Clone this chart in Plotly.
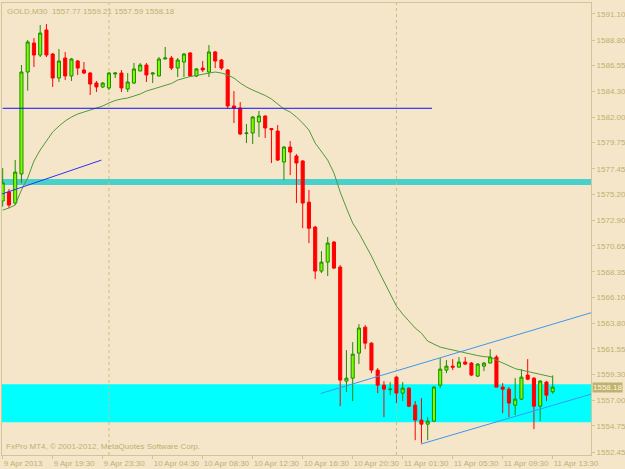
import plotly.graph_objects as go

# ---- data ----
opens = [1574.60, 1575.39, 1574.42, 1576.98, 1585.98, 1588.54, 1587.48, 1589.69, 1587.57, 1585.45,
         1587.22, 1585.63, 1586.95, 1586.16, 1585.89, 1585.01, 1584.66, 1584.57, 1585.80, 1585.89,
         1584.48, 1585.01, 1586.07, 1586.60, 1585.80, 1585.63, 1587.13, 1587.22, 1586.33, 1586.86,
         1587.66, 1585.63, 1586.33, 1585.98, 1587.75, 1587.04, 1586.16, 1582.98, 1582.80, 1580.55,
         1580.60, 1581.57, 1582.10, 1580.99, 1580.77, 1578.04, 1579.36, 1578.57, 1578.13, 1574.50,
         1572.30, 1568.42, 1569.21, 1570.98, 1568.77, 1558.71, 1558.97, 1561.18, 1563.47, 1562.06,
         1559.68, 1558.35, 1557.96, 1559.06, 1557.65, 1558.09, 1556.59, 1555.27, 1554.91, 1555.18,
         1558.35, 1559.68, 1560.03, 1559.94, 1560.39, 1560.30, 1559.15, 1560.03, 1560.30, 1560.83,
         1558.18, 1558.00, 1556.59, 1557.12, 1559.24, 1558.97, 1556.50, 1558.62, 1557.77]
highs = [1577.50, 1575.65, 1578.21, 1586.60, 1588.80, 1588.98, 1590.13, 1590.22, 1587.66, 1588.01,
         1587.75, 1587.22, 1587.04, 1586.86, 1585.98, 1585.19, 1585.10, 1585.98, 1585.98, 1586.16,
         1585.89, 1586.78, 1586.78, 1586.78, 1585.98, 1587.30, 1588.19, 1587.39, 1587.22, 1587.66,
         1587.75, 1586.33, 1586.95, 1588.36, 1587.84, 1587.13, 1586.25, 1584.30, 1583.33, 1581.39,
         1582.10, 1582.54, 1582.15, 1581.04, 1581.30, 1579.45, 1579.89, 1578.74, 1578.21, 1575.57,
         1572.40, 1570.18, 1571.42, 1571.06, 1568.95, 1561.45, 1562.15, 1563.74, 1563.65, 1562.15,
         1559.86, 1558.70, 1558.62, 1559.15, 1558.62, 1558.18, 1556.94, 1557.21, 1555.53, 1558.27,
         1560.74, 1560.56, 1560.65, 1560.83, 1560.83, 1560.39, 1560.30, 1560.39, 1561.53, 1561.00,
         1558.53, 1558.18, 1558.97, 1559.77, 1560.65, 1559.06, 1558.80, 1558.71, 1559.21]
lows = [1574.10, 1573.98, 1574.24, 1576.18, 1584.33, 1586.42, 1587.30, 1587.30, 1584.66, 1585.10,
        1585.28, 1585.19, 1585.72, 1585.80, 1583.95, 1584.22, 1584.57, 1584.39, 1585.45, 1584.22,
        1584.22, 1584.92, 1586.07, 1585.10, 1585.01, 1585.60, 1587.10, 1586.16, 1585.54, 1585.54,
        1585.54, 1585.54, 1585.98, 1585.54, 1586.33, 1586.16, 1582.72, 1581.48, 1580.42, 1579.71,
        1579.63, 1580.24, 1580.16, 1577.95, 1578.13, 1576.45, 1576.89, 1574.42, 1572.20, 1570.89,
        1567.71, 1568.24, 1567.98, 1568.60, 1556.50, 1557.74, 1556.94, 1560.21, 1561.53, 1559.41,
        1557.65, 1555.53, 1557.47, 1556.77, 1556.94, 1556.41, 1553.50, 1553.24, 1553.50, 1555.10,
        1558.09, 1559.41, 1559.68, 1559.94, 1560.12, 1559.15, 1559.06, 1559.59, 1560.30, 1558.18,
        1555.88, 1555.53, 1555.71, 1557.03, 1558.80, 1554.47, 1555.18, 1556.94, 1557.59]
closes = [1576.20, 1574.24, 1577.15, 1585.98, 1588.63, 1587.48, 1589.42, 1587.48, 1585.45, 1586.95,
          1585.63, 1587.13, 1586.33, 1585.89, 1584.92, 1584.66, 1585.01, 1585.89, 1585.89, 1584.57,
          1585.10, 1586.25, 1586.60, 1585.72, 1585.89, 1587.13, 1587.22, 1586.33, 1587.04, 1587.57,
          1585.63, 1586.25, 1586.16, 1587.75, 1586.95, 1586.33, 1582.98, 1582.80, 1580.51, 1580.60,
          1582.01, 1582.10, 1581.04, 1580.90, 1578.21, 1579.36, 1578.92, 1577.95, 1574.42, 1572.20,
          1568.42, 1569.21, 1570.89, 1568.68, 1558.80, 1558.97, 1561.09, 1563.39, 1562.06, 1559.68,
          1558.35, 1558.00, 1558.00, 1557.65, 1558.09, 1556.50, 1555.27, 1554.91, 1555.18, 1558.18,
          1559.77, 1560.03, 1559.94, 1560.39, 1560.21, 1559.24, 1560.21, 1560.30, 1560.83, 1558.18,
          1558.00, 1556.77, 1557.12, 1559.06, 1558.88, 1556.50, 1558.71, 1557.47, 1558.18]
ma = [1573.80, 1573.98, 1574.24, 1575.57, 1576.63, 1578.13, 1579.10, 1579.89, 1580.69, 1581.21,
      1581.66, 1582.01, 1582.27, 1582.45, 1582.63, 1582.80, 1582.98, 1583.25, 1583.47, 1583.60,
      1583.69, 1583.86, 1584.04, 1584.30, 1584.48, 1584.66, 1584.79, 1584.97, 1585.27, 1585.45,
      1585.58, 1585.67, 1585.80, 1585.89, 1585.98, 1585.89, 1585.72, 1585.45, 1585.01, 1584.66,
      1584.39, 1584.17, 1583.91, 1583.60, 1583.16, 1582.72, 1582.45, 1582.01, 1581.48, 1580.86,
      1579.71, 1578.92, 1578.21, 1577.07, 1575.39, 1573.98, 1572.65, 1571.77, 1570.80, 1569.74,
      1568.59, 1567.53, 1566.39, 1565.33, 1564.62, 1564.00, 1563.39, 1562.94, 1562.24, 1561.97,
      1561.71, 1561.58, 1561.45, 1561.31, 1561.18, 1561.09, 1560.96, 1560.87, 1560.83, 1560.56,
      1560.30, 1560.03, 1559.81, 1559.68, 1559.55, 1559.41, 1559.33, 1559.19, 1559.06]

x_tick_idx = [0, 8, 16, 24, 32, 40, 48, 56, 64, 72, 80, 88]
x_tick_text = ["9 Apr 2013", "9 Apr 19:30", "9 Apr 23:30", "10 Apr 04:30", "10 Apr 08:30",
               "10 Apr 12:30", "10 Apr 16:30", "10 Apr 20:30", "11 Apr 01:30", "11 Apr 05:30",
               "11 Apr 09:30", "11 Apr 13:30"]
y_tick_vals = [1591.10, 1588.80, 1586.55, 1584.30, 1582.00, 1579.75, 1577.45, 1575.20, 1572.90,
               1570.65, 1568.35, 1566.10, 1563.80, 1561.55, 1559.30, 1557.00, 1554.75, 1552.45]
y_tick_text = ["%.2f" % v for v in y_tick_vals]

# drawn objects (levels / trend lines)
zone_aqua = [1555.09, 1558.44]
zone_turq = [1576.01, 1576.54]
hline_blue = {"x": [0, 68.7], "y": 1582.78}
trend_blue = {"x": [-0.16, 15.8], "y": [1575.21, 1578.21]}
chan_upper = {"x": [50.9, 94.13], "y": [1557.62, 1564.74]}
chan_lower = {"x": [66.9, 94.13], "y": [1553.15, 1557.56]}
separators = [17, 63]
last_price = 1558.18
title_text = "GOLD,M30  1557.77 1559.21 1557.59 1558.18"
footer_text = "FxPro MT4, \u00a9 2001-2012, MetaQuotes Software Corp."

idx = list(range(len(closes)))

BG = "#F6E6C9"
FG = "#BDB070"
AX = "#D2C39A"

fig = go.Figure()
fig.add_trace(go.Candlestick(
    x=idx, open=opens, high=highs, low=lows, close=closes,
    increasing=dict(fillcolor="#7CFC00", line=dict(color="#1E8C00", width=1)),
    decreasing=dict(fillcolor="#FF0000", line=dict(color="#FF0000", width=1)),
    whiskerwidth=0, hoverinfo="skip", showlegend=False))
fig.add_trace(go.Scatter(x=idx, y=ma, mode="lines",
                         line=dict(color="#4E9A3A", width=1), hoverinfo="skip", showlegend=False))

shapes = [
    dict(type="rect", xref="paper", x0=0, x1=1, yref="y", y0=zone_aqua[0], y1=zone_aqua[1],
         fillcolor="#00FFFF", line=dict(width=0), layer="below"),
    dict(type="rect", xref="paper", x0=0, x1=1, yref="y", y0=zone_turq[0], y1=zone_turq[1],
         fillcolor="#48D1CC", line=dict(width=0), layer="below"),
    dict(type="line", xref="x", yref="y", x0=hline_blue["x"][0], x1=hline_blue["x"][1],
         y0=hline_blue["y"], y1=hline_blue["y"], line=dict(color="#1010FF", width=1)),
    dict(type="line", xref="x", yref="y", x0=trend_blue["x"][0], x1=trend_blue["x"][1],
         y0=trend_blue["y"][0], y1=trend_blue["y"][1], line=dict(color="#3030F0", width=1)),
    dict(type="line", xref="x", yref="y", x0=chan_upper["x"][0], x1=chan_upper["x"][1],
         y0=chan_upper["y"][0], y1=chan_upper["y"][1], line=dict(color="#3E96EE", width=1)),
    dict(type="line", xref="x", yref="y", x0=chan_lower["x"][0], x1=chan_lower["x"][1],
         y0=chan_lower["y"][0], y1=chan_lower["y"][1], line=dict(color="#3E96EE", width=1)),
]
for s in separators:
    shapes.append(dict(type="line", xref="x", yref="paper", x0=s, x1=s, y0=0, y1=1,
                       line=dict(color="#CDB98A", width=1, dash="dot"), layer="below"))

annotations = [
    dict(text=title_text, xref="paper", yref="paper", x=0.005, y=0.995, xanchor="left",
         yanchor="top", showarrow=False, font=dict(size=8, color=FG)),
    dict(text=footer_text, xref="paper", yref="paper", x=0.004, y=0.004, xanchor="left",
         yanchor="bottom", showarrow=False, font=dict(size=8, color=FG)),
    dict(text="%.2f" % last_price, xref="paper", yref="y", x=1, y=last_price,
         xanchor="left", yanchor="middle", xshift=1, showarrow=False,
         bgcolor="#BFB270", font=dict(size=8, color="#FFF6DC"), borderpad=0),
]

fig.update_layout(
    width=625, height=469,
    margin=dict(l=2, r=34, t=3, b=14, autoexpand=False),
    paper_bgcolor=BG, plot_bgcolor=BG,
    font=dict(family="Liberation Sans", size=8, color=FG),
    shapes=shapes, annotations=annotations, showlegend=False,
    xaxis=dict(range=[-0.11, 94.13], tickvals=x_tick_idx, ticktext=x_tick_text,
               tickangle=0, automargin=False,
               ticklabelposition="outside right", ticks="outside", ticklen=3, tickcolor=AX,
               showgrid=False, zeroline=False, showline=True, mirror=True, linecolor=AX,
               rangeslider=dict(visible=False), fixedrange=True),
    yaxis=dict(range=[1552.19, 1592.07], side="right", tickvals=y_tick_vals, ticktext=y_tick_text,
               automargin=False,
               ticks="outside", ticklen=3, tickcolor=AX, showgrid=False, zeroline=False,
               showline=True, mirror=True, linecolor=AX, fixedrange=True),
)

fig.write_html("out.html")
